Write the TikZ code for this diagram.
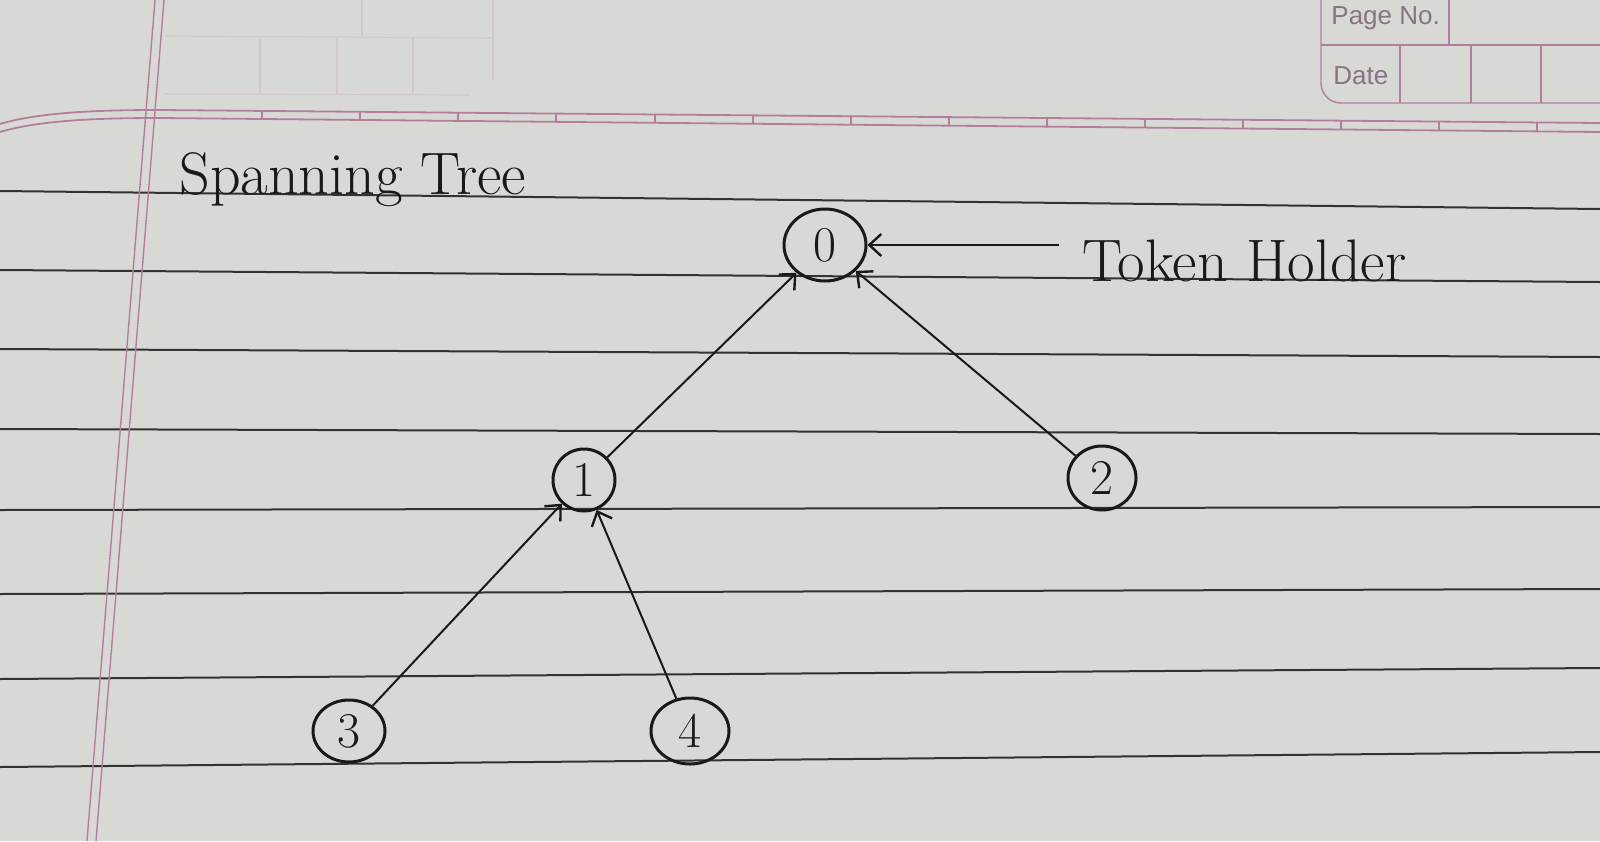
\documentclass[tikz,border=0pt]{standalone}
\usepackage{fontspec}
\newfontfamily\hdr{Liberation Sans}
\usetikzlibrary{arrows.meta,shapes.geometric}
\definecolor{paper}{RGB}{216,217,213}
\definecolor{rulec}{RGB}{50,50,50}
\definecolor{ink}{RGB}{25,25,25}
\definecolor{pinkm}{RGB}{180,125,158}
\definecolor{hdrtext}{RGB}{135,115,130}
\begin{document}
\begin{tikzpicture}[x=0.5pt,y=-0.5pt,
  vert/.style={ellipse,draw=ink,line width=1.5pt,inner sep=0pt,text=ink,font=\fontsize{25}{25}\selectfont},
  edge/.style={draw=ink,line width=1pt,-{Straight Barb[length=6pt,width=11pt,line width=1.2pt]}},
  ruled/.style={draw=rulec,line width=1pt},
  margin/.style={draw=pinkm,line width=0.7pt},
  faint/.style={draw=pinkm!18!paper,line width=0.6pt},
  hand/.style={text=ink,font=\fontsize{30}{30}\selectfont,inner sep=0pt,anchor=base west},
  hdrlabel/.style={text=hdrtext,font=\hdr\fontsize{13}{13}\selectfont,inner sep=0pt,anchor=west},
]
\fill[paper] (0,0) rectangle (1600,841);
\useasboundingbox (0,0) rectangle (1600,841);
% ruled lines
\draw[ruled] (0,191) -- (1600,209);
\draw[ruled] (0,270) -- (1600,282);
\draw[ruled] (0,349) -- (1600,357);
\draw[ruled] (0,429) -- (1600,434);
\draw[ruled] (0,510) -- (1600,507);
\draw[ruled] (0,594) -- (1600,589);
\draw[ruled] (0,679) -- (1600,668);
\draw[ruled] (0,767) -- (1600,752);
% margin double line
\draw[margin] (155,0) -- (87,841);
\draw[margin] (164,0) -- (96,841);
% header double line
\draw[margin,line width=0.9pt] (0,124) .. controls (40,112) and (100,110) .. (160,110) -- (1600,123);
\draw[margin,line width=0.9pt] (0,132) .. controls (40,120) and (100,118) .. (160,118) -- (1600,132);
\foreach \x in {262,360,458,556,655,753,851,949,1047,1145,1243,1341,1439,1537}
  \draw[margin] (\x,{110+(\x-160)/1440*13}) -- (\x,{118+(\x-160)/1440*14});
% faint bleed-through box at left
\draw[faint] (165,36) -- (493,38);
\draw[faint] (165,94) -- (470,95);
\draw[faint] (493,0) -- (493,80);
\draw[faint] (362,0) -- (362,36);
\draw[faint] (260,38) -- (260,94);
\draw[faint] (337,38) -- (337,94);
\draw[faint] (413,38) -- (413,94);
% header box at top right
\draw[margin] (1321,0) -- (1321,83) arc (180:90:20) -- (1600,103);
\draw[margin] (1321,45) -- (1600,45);
\draw[margin] (1449,0) -- (1449,45);
\draw[margin] (1400,45) -- (1400,103);
\draw[margin] (1471,45) -- (1471,103);
\draw[margin] (1541,45) -- (1541,103);
\node[hdrlabel] (pageno) at (1331,18) {Page No.};
\node[hdrlabel] (date) at (1333,76) {Date};
% handwriting
\node[hand] (title) at (179,194) {Spanning Tree};
\node[hand] (holder) at (1082,281) {Token Holder};
% nodes
\node[vert,minimum width=41pt,minimum height=36pt] (n0) at (825,245) {0};
\node[vert,minimum width=31pt,minimum height=31pt] (n1) at (584,480) {1};
\node[vert,minimum width=34pt,minimum height=32pt] (n2) at (1102,478) {2};
\node[vert,minimum width=36pt,minimum height=31pt] (n3) at (349,731) {3};
\node[vert,minimum width=39pt,minimum height=33pt] (n4) at (690,731) {4};
% connectors
\coordinate (thtail) at (1059,245);
\draw[edge] (thtail) -- (n0);
\draw[edge] (n1) -- (n0);
\draw[edge] (n2) -- (n0);
\draw[edge] (n3) -- (n1);
\draw[edge] (n4) -- (n1);
\end{tikzpicture}
\end{document}
